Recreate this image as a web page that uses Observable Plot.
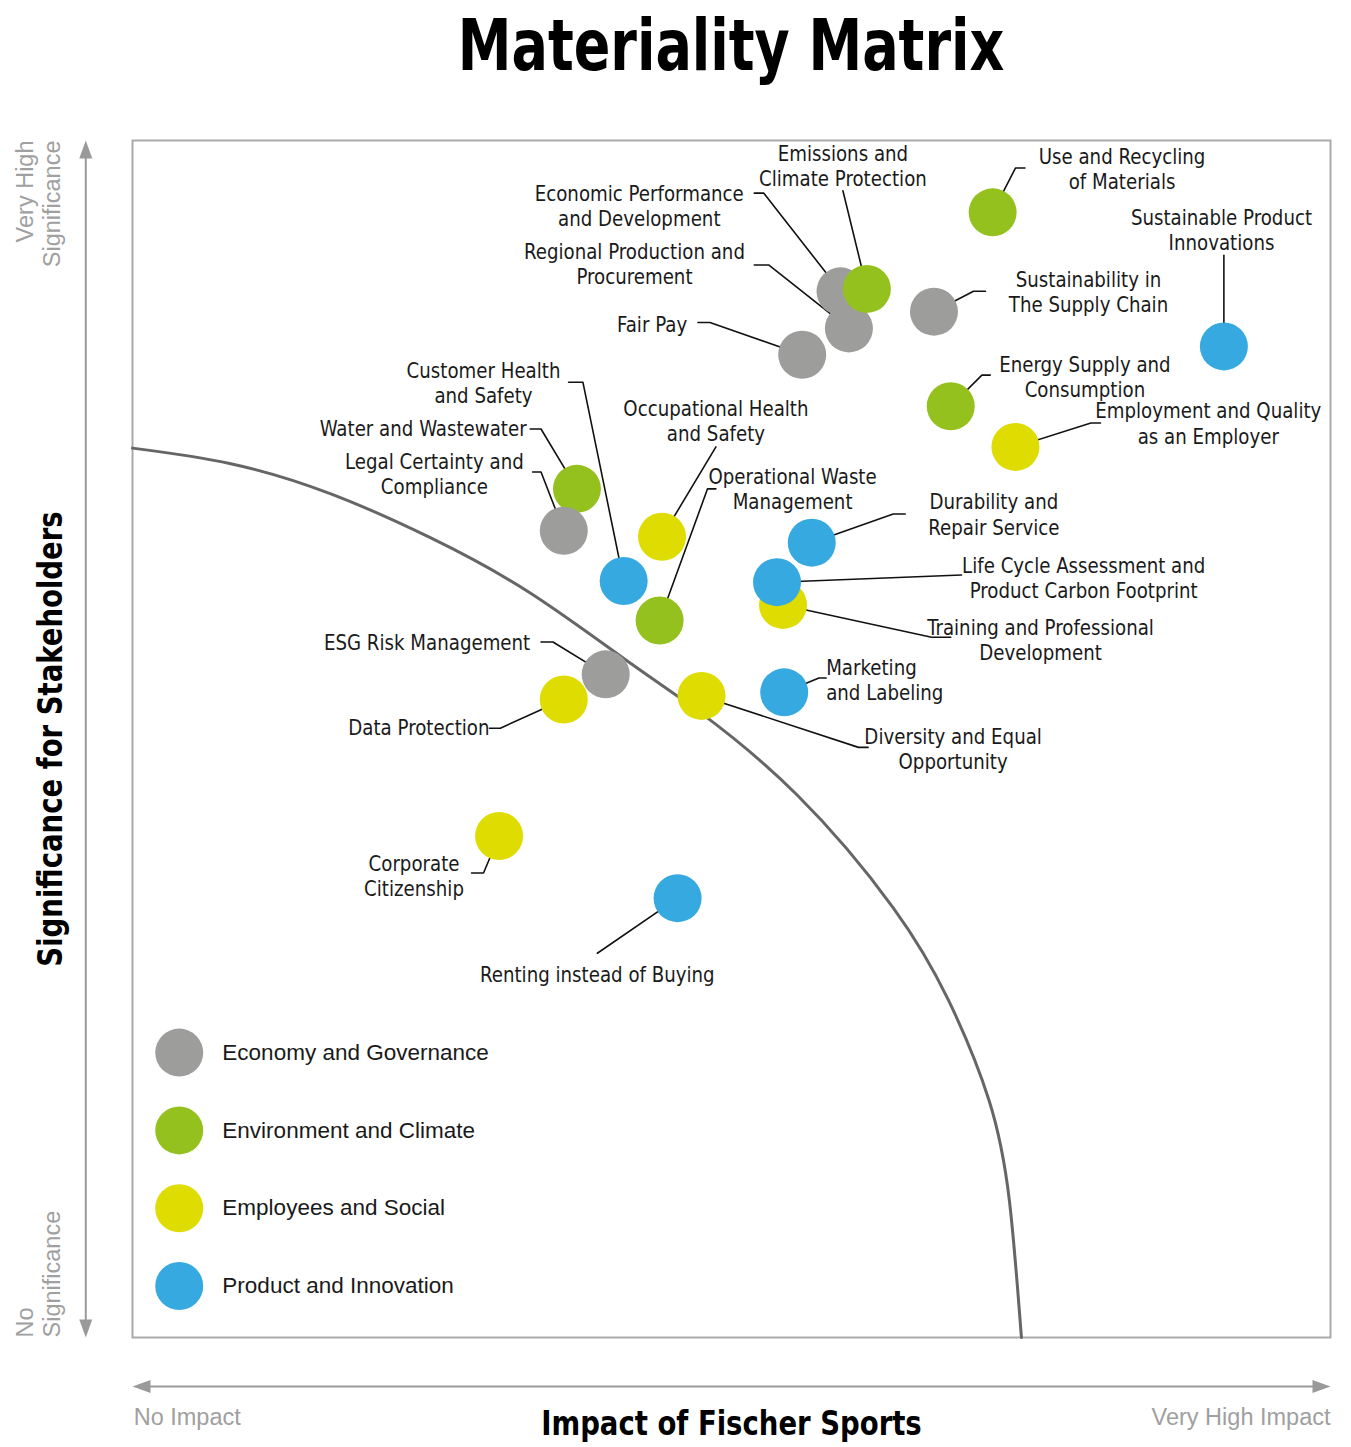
<!DOCTYPE html>
<html><head><meta charset="utf-8">
<script src="https://cdn.jsdelivr.net/npm/d3@7"></script>
<script src="https://cdn.jsdelivr.net/npm/@observablehq/plot@0.6"></script>
<style>
body{margin:0;background:#fff;}
#title{height:95px;box-sizing:border-box;padding:9px 21px 0 132px;text-align:center;font-family:"DejaVu Sans Condensed",sans-serif;font-weight:bold;font-size:72px;line-height:72px;color:#000;}
#title span{display:inline-block;transform:scaleX(0.833);transform-origin:50% 50%;}
#chart svg{display:block;}
</style></head><body>
<div id="title"><span>Materiality Matrix</span></div>
<div id="chart"></div>
<script>
// ---- data ----
const categories = ["Economy and Governance","Environment and Climate","Employees and Social","Product and Innovation"];
const categoryColors = ["#9d9d9c","#95c11f","#dedc00","#36a9e1"];

const topics = [
  "Economic Performance and Development","Regional Production and Procurement","Emissions and Climate Protection",
  "Fair Pay","Sustainability in The Supply Chain","Use and Recycling of Materials","Sustainable Product Innovations",
  "Energy Supply and Consumption","Employment and Quality as an Employer","Water and Wastewater",
  "Legal Certainty and Compliance","Customer Health and Safety","Occupational Health and Safety",
  "Operational Waste Management","Durability and Repair Service","Training and Professional Development",
  "Life Cycle Assessment and Product Carbon Footprint","Marketing and Labeling","Diversity and Equal Opportunity",
  "ESG Risk Management","Data Protection","Corporate Citizenship","Renting instead of Buying"
];
const topicCategory = [0,0,1,0,0,1,3,1,2,1,0,3,2,1,3,2,3,3,2,0,2,2,3];
const impact =       [59.1,59.8,61.3,55.9,66.9,71.8,91.1,68.3,73.7,37.1,36.0,41.0,44.2,44.0,56.7,54.3,53.8,54.4,47.5,39.5,36.0,30.6,45.5];
const significance = [87.4,84.3,87.6,82.1,85.7,94.0,82.8,77.8,74.4,70.9,67.4,63.2,66.9,59.9,66.4,61.2,63.1,53.9,53.6,55.4,53.3,41.9,36.7];

// threshold curve
const thresholdImpact =       [0,8.2,16.5,24.9,33.2,41.6,47.4,55.5,63.5,68.1,71.5,73.2,74.2];
const thresholdSignificance = [74.3,73.0,70.5,66.8,62.2,56.3,52.2,45.3,35.9,28.2,19.8,11.4,0];

// ---- annotation layout (label placement, in chart units) ----
const labelText = [
  "Economic Performance\nand Development","Regional Production and\nProcurement","Emissions and\nClimate Protection",
  "Fair Pay","Sustainability in\nThe Supply Chain","Use and Recycling\nof Materials","Sustainable Product\nInnovations",
  "Energy Supply and\nConsumption","Employment and Quality\nas an Employer","Water and Wastewater",
  "Legal Certainty and\nCompliance","Customer Health\nand Safety","Occupational Health\nand Safety",
  "Operational Waste\nManagement","Durability and\nRepair Service","Training and Professional\nDevelopment",
  "Life Cycle Assessment and\nProduct Carbon Footprint","Marketing\nand Labeling","Diversity and Equal\nOpportunity",
  "ESG Risk Management","Data Protection","Corporate\nCitizenship","Renting instead of Buying"
];
const labelX = [42.3,41.9,59.3,46.3,79.8,82.6,90.9,79.5,89.8,32.9,25.2,29.3,48.7,55.1,71.9,75.8,79.4,57.9,68.5,33.2,29.8,23.5,38.8];
const labelY = [94.6,89.7,97.9,84.7,87.4,97.7,92.6,80.3,76.4,76.0,72.2,79.8,76.6,70.9,68.8,58.3,63.5,55.0,49.2,58.1,51.0,38.6,30.4];
const labelAnchor = ["middle","middle","middle","end","middle","middle","middle","middle","middle","end","middle","middle","middle","middle","middle","middle","middle","start","middle","end","end","middle","middle"];
const leadX = [51.9,51.9,59.3,47.2,71.2,74.5,91.1,71.6,80.8,33.2,33.4,36.4,48.7,48.7,64.5,68.3,69.2,57.9,61.4,34.1,29.8,28.3,38.8];
const leadY = [95.6,89.6,95.8,84.8,87.4,97.7,90.4,80.4,76.4,75.9,72.3,79.8,74.4,70.9,68.8,58.5,63.7,55.1,49.3,58.1,50.9,38.8,32.1];
const elbowX = [52.7,53.1,null,48.2,70.2,73.7,null,70.9,80.0,34.1,34.1,37.6,null,48.0,63.5,66.7,null,57.3,60.6,35.1,30.7,29.3,null];

// ---- build tables ----
const points = topics.map((t,i)=>({topic:t, category:categories[topicCategory[i]], x:impact[i], y:significance[i]}));
const labels = topics.map((t,i)=>({text:labelText[i], x:labelX[i], y:labelY[i], anchor:labelAnchor[i]}));
const leaders = [];
topics.forEach((t,i)=>{
  leaders.push({id:i, x:leadX[i], y:leadY[i]});
  if (elbowX[i] != null) leaders.push({id:i, x:elbowX[i], y:leadY[i]});
  leaders.push({id:i, x:impact[i], y:significance[i]});
});
const threshold = thresholdImpact.map((x,i)=>({x, y:thresholdSignificance[i]}));
const legend = categories.map((c,i)=>({category:c, x:3.9, y:23.8 - i*6.5}));

const axisGray = "#9a9a9a";
const labelFont = "'DejaVu Sans Condensed',sans-serif";
const plainFont = "'Liberation Sans','DejaVu Sans',sans-serif";

const textMarks = ["start","middle","end"].map(a =>
  Plot.text(labels.filter(d=>d.anchor===a), {x:"x", y:"y", text:"text", textAnchor:a, lineAnchor:"middle",
    lineHeight:1.14, fontSize:22, fontFamily:labelFont, fill:"#1a1a1a"}));

const chart = Plot.plot({
  width:1351, height:1352,
  marginTop:45, marginBottom:110, marginLeft:132, marginRight:21,
  x:{domain:[0,100], axis:null},
  y:{domain:[0,100], axis:null},
  color:{domain:categories, range:categoryColors},
  style:{background:"#fff"},
  marks:[
    Plot.frame({stroke:"#aaa", strokeWidth:2}),
    // axis arrows
    Plot.ruleX([-3.9], {y1:1, y2:99, stroke:axisGray, strokeWidth:2}),
    Plot.ruleY([-4.1], {x1:1, x2:99, stroke:axisGray, strokeWidth:2}),
    Plot.vector([{x:-3.9,y:100,r:0},{x:-3.9,y:0,r:180},{x:100,y:-4.1,r:90},{x:0,y:-4.1,r:270}],
      {x:"x", y:"y", rotate:"r", anchor:"end", length:18, r:6.5, shape:"spike", fill:axisGray, stroke:"none"}),
    Plot.text(["No Impact"], {x:0.1, y:-6.7, textAnchor:"start", fontSize:23.5, fontFamily:plainFont, fill:"#a0a0a0"}),
    Plot.text(["Very High Impact"], {x:100, y:-6.7, textAnchor:"end", fontSize:23.5, fontFamily:plainFont, fill:"#a0a0a0"}),
    Plot.text(["Very High\nSignificance"], {x:-7.9, y:100, rotate:-90, textAnchor:"end", lineAnchor:"middle", lineHeight:1.15, fontSize:23.5, fontFamily:plainFont, fill:"#a0a0a0"}),
    Plot.text(["No\nSignificance"], {x:-7.9, y:0, rotate:-90, textAnchor:"start", lineAnchor:"middle", lineHeight:1.15, fontSize:23.5, fontFamily:plainFont, fill:"#a0a0a0"}),
    Plot.text(["Impact of Fischer Sports"], {x:50, y:-7.2, fontSize:34, fontWeight:"bold", fontFamily:labelFont, fill:"#000"}),
    Plot.text(["Significance for Stakeholders"], {x:-6.8, y:50, rotate:-90, fontSize:34, fontWeight:"bold", fontFamily:labelFont, fill:"#000"}),
    // threshold curve
    Plot.line(threshold, {x:"x", y:"y", curve:"natural", stroke:"#666", strokeWidth:3}),
    // leader lines
    Plot.line(leaders, {x:"x", y:"y", z:"id", stroke:"#111", strokeWidth:1.6, curve:"linear"}),
    // dots
    Plot.dot(points, {x:"x", y:"y", r:24, fill:"category", stroke:"none"}),
    ...textMarks,
    // legend
    Plot.dot(legend, {x:"x", y:"y", r:24, fill:"category", stroke:"none"}),
    Plot.text(legend, {x:d=>d.x+3.6, y:"y", text:"category", textAnchor:"start", fontSize:22.5, fontFamily:plainFont, fill:"#1a1a1a"})
  ]
});
document.getElementById("chart").appendChild(chart);

// narrow the condensed-font texts horizontally to match the reference's narrow typeface
chart.querySelectorAll("g[aria-label='text']").forEach(g => {
  const ff = g.getAttribute("font-family") || "";
  if (!ff.includes("Condensed")) return;
  const fs = +g.getAttribute("font-size");
  const k = fs >= 30 ? 0.9 : 0.92;
  g.querySelectorAll("text").forEach(t => {
    const tr = t.getAttribute("transform") || "";
    t.setAttribute("transform", tr + ` scale(${k},1)`);
  });
});
</script>
</body></html>
